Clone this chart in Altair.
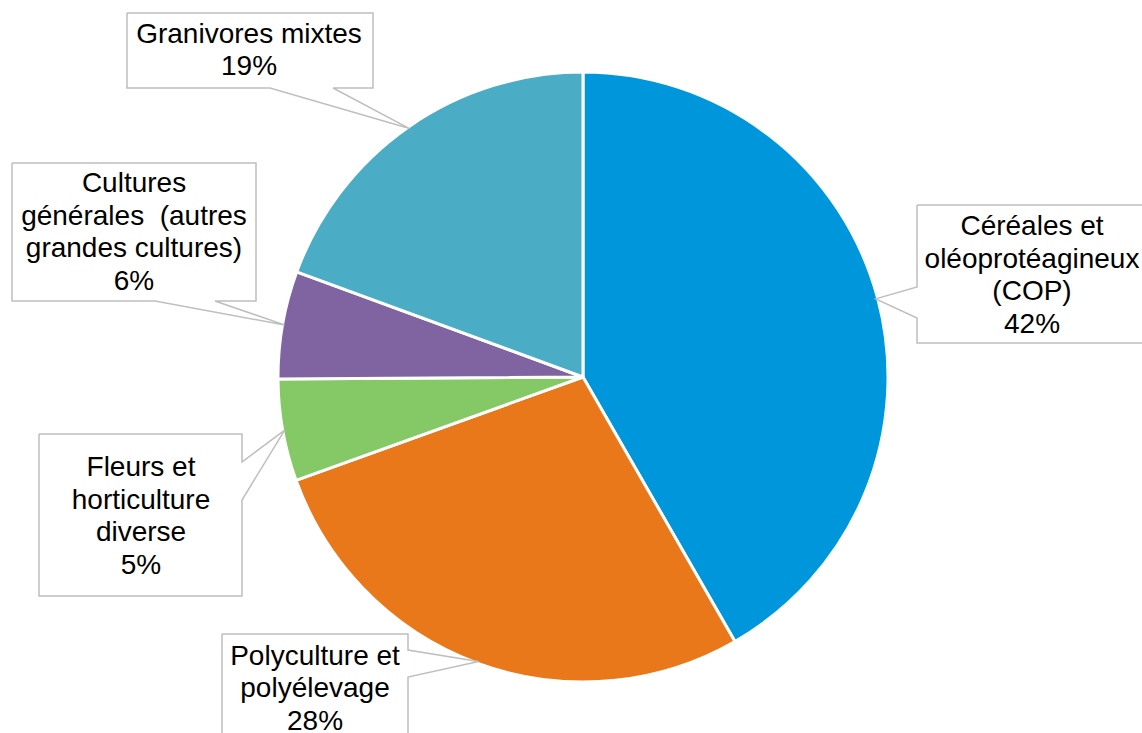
import math
import altair as alt
import pandas as pd

# ---- data ----
categories = [
    "Céréales et oléoprotéagineux (COP)",
    "Polyculture et polyélevage",
    "Fleurs et horticulture diverse",
    "Cultures générales  (autres grandes cultures)",
    "Granivores mixtes",
]
values = [41.7, 27.8, 5.4, 5.7, 19.4]
label_lines = [
    ["Céréales et", "oléoprotéagineux", "(COP)"],
    ["Polyculture et", "polyélevage"],
    ["Fleurs et", "horticulture", "diverse"],
    ["Cultures", "générales \u00a0(autres", "grandes cultures)"],
    ["Granivores mixtes"],
]
colors = ["#0096DC", "#E8781A", "#84C966", "#8064A2", "#4BACC6"]

# ---- layout (pixels) ----
W, H = 1142, 733
CX, CY, R = 583, 377, 305
FS, LH = 28, 32.5
# box x0, y0, x1, y1, side of pointer, attach a1, a2, text centre x, y
layout = [
    (917, 205, 1160, 343, "left", 287, 318, 1032, 276),
    (222, 634, 408, 760, "right", 650, 677, 315, 689),
    (39, 434, 242, 596, "right", 462, 500, 141, 517),
    (12, 163, 256, 301, "bottom", 155, 215, 134, 233),
    (127, 13, 373, 88, "bottom", 270, 333, 249, 51),
]

total = sum(values)
pie_df = pd.DataFrame({"cat": categories, "value": values, "idx": range(len(values))})

rows = []
texts = []
cum = 0
for i, (cat, v) in enumerate(zip(categories, values)):
    mid = (cum + v / 2) / total * 2 * math.pi
    cum += v
    tx = CX + (R - 2) * math.sin(mid)
    ty = CY - (R - 2) * math.cos(mid)
    x0, y0, x1, y1, side, a1, a2, lx, ly = layout[i]
    pts = [(x0, y0), (x1, y0)]
    if side == "right":
        pts += [(x1, a1), (tx, ty), (x1, a2)]
    pts += [(x1, y1)]
    if side == "bottom":
        pts += [(a2, y1), (tx, ty), (a1, y1)]
    pts += [(x0, y1)]
    if side == "left":
        pts += [(x0, a2), (tx, ty), (x0, a1)]
    pts += [(x0, y0)]
    for k, (px, py) in enumerate(pts):
        rows.append({"cat": cat, "k": k, "px": px, "py": py})
    lines = label_lines[i] + [f"{round(v)}%"]
    first_y = ly - (len(lines) - 1) * LH / 2
    texts.append({"cat": cat, "px": lx, "py": first_y, "txt": "\n".join(lines)})

line_df = pd.DataFrame(rows)
text_df = pd.DataFrame(texts)

xs = alt.Scale(domain=[0, W], range=[0, W], zero=False, nice=False)
ys = alt.Scale(domain=[0, H], range=[0, H], zero=False, nice=False)

pie = alt.Chart(pie_df).mark_arc(outerRadius=R, stroke="white", strokeWidth=3).encode(
    theta=alt.Theta("value:Q", stack=True),
    order=alt.Order("idx:Q"),
    color=alt.Color("cat:N", scale=alt.Scale(domain=categories, range=colors), legend=None),
    x=alt.value(CX),
    y=alt.value(CY),
)

boxes = alt.Chart(line_df).mark_line(color="#BFBFBF", strokeWidth=1.5).encode(
    x=alt.X("px:Q", scale=xs, axis=None),
    y=alt.Y("py:Q", scale=ys, axis=None),
    detail="cat:N",
    order="k:Q",
)

labels = alt.Chart(text_df).mark_text(
    font="Liberation Sans", fontSize=FS, lineHeight=LH, align="center",
    baseline="middle", color="#000000", lineBreak="\n",
).encode(
    x=alt.X("px:Q", scale=xs, axis=None),
    y=alt.Y("py:Q", scale=ys, axis=None),
    text="txt:N",
)

chart = alt.layer(pie, boxes, labels).properties(
    width=W, height=H, padding=0, autosize=alt.AutoSizeParams(type="none"),
    background="white",
).configure_view(stroke=None)

chart.save("out.html", embed_options={"renderer": "svg", "actions": False})
